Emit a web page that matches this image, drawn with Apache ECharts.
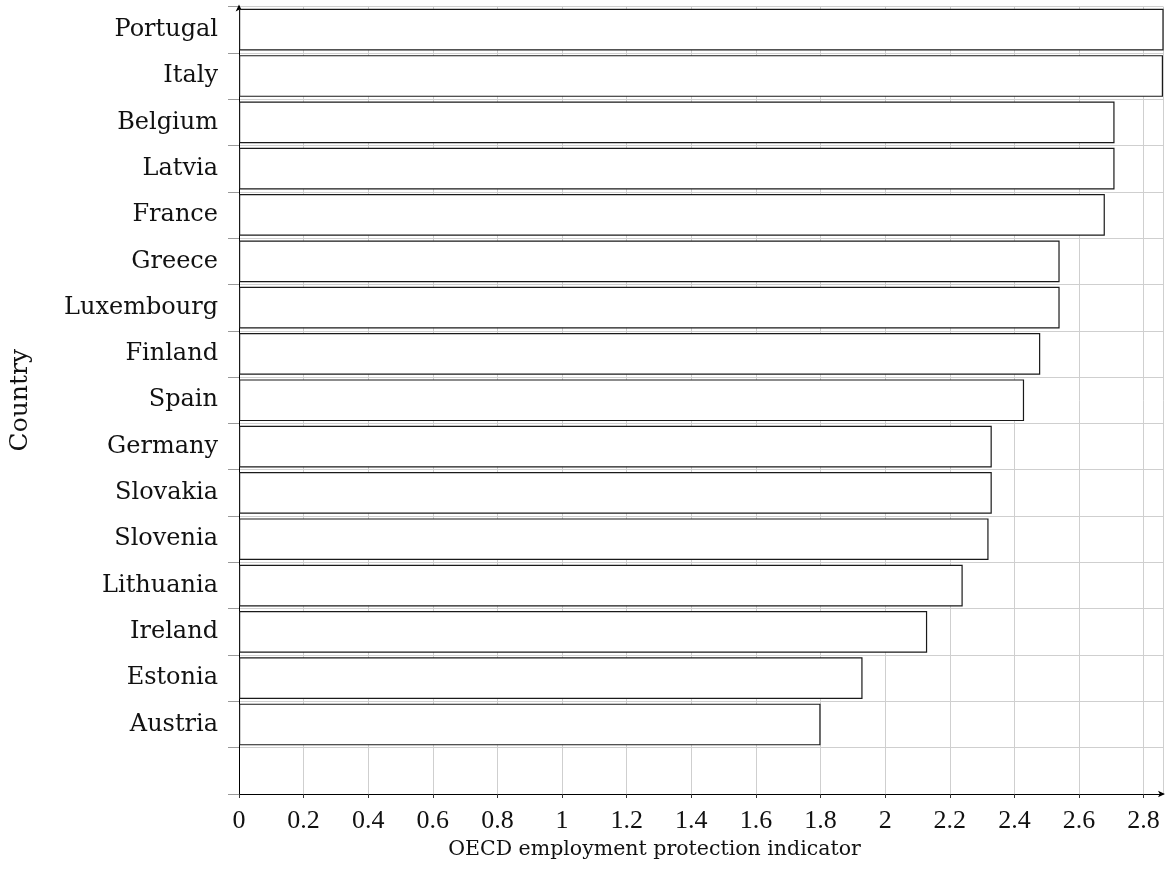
<!DOCTYPE html>
<html>
<head>
<meta charset="utf-8">
<script src="https://cdn.jsdelivr.net/npm/echarts@6/dist/echarts.min.js"></script>
<style>
html,body{margin:0;padding:0;background:#fff;}
#chart{width:1165px;height:877px;}
</style>
</head>
<body>
<div id="chart"></div>
<script>
// Categories listed top to bottom as in the picture; the last one is an empty slot
const countries = ['Portugal','Italy','Belgium','Latvia','France','Greece','Luxembourg','Finland','Spain','Germany','Slovakia','Slovenia','Lithuania','Ireland','Estonia','Austria',''];
const values = [3.18, 2.86, 2.71, 2.71, 2.68, 2.54, 2.54, 2.48, 2.43, 2.33, 2.33, 2.32, 2.24, 2.13, 1.93, 1.80, null];
const xTicks = [0,0.2,0.4,0.6,0.8,1,1.2,1.4,1.6,1.8,2,2.2,2.4,2.6,2.8];
const xMax = 2.86;
const xTitle = 'OECD employment protection indicator';
const yTitle = 'Country';

// bottom-to-top order for the category axis
const cats = countries.slice().reverse();
const vals = values.slice().reverse();

const chart = echarts.init(document.getElementById('chart'), null, {renderer:'canvas'});
const labelFont = 'DejaVu Serif';
const numFont = 'Liberation Serif';
chart.setOption({
  animation:false,
  backgroundColor:'#fff',
  grid:{left:237.5, top:6.5, width:925.5, height:787.5, containLabel:false},
  xAxis:{
    type:'value', min:0, max:xMax, interval:0.2,
    name:xTitle, nameLocation:'middle', nameGap:23,
    nameTextStyle:{fontFamily:labelFont, fontSize:20.5, color:'#111', padding:[0,93,0,0]},
    axisLine:{show:true, lineStyle:{color:'#000', width:1}, symbol:['none','arrow'], symbolSize:[5,7], symbolOffset:[0,2]},
    axisTick:{show:true, length:4, lineStyle:{color:'#333'}},
    axisLabel:{fontFamily:numFont, fontSize:26, color:'#111', margin:14, showMaxLabel:false,
      formatter:function(v){
        const hit = xTicks.find(t=>Math.abs(t-v)<1e-6);
        return hit===undefined ? '' : String(hit);
      }},
    splitLine:{show:true, lineStyle:{color:'#cfcfcf', width:1}}
  },
  yAxis:{
    type:'category', data:cats, boundaryGap:true,
    name:yTitle, nameLocation:'middle', nameGap:206, nameRotate:90,
    nameTextStyle:{fontFamily:labelFont, fontSize:25, color:'#111'},
    axisLine:{show:true, lineStyle:{color:'#000', width:1}, symbol:['none','arrow'], symbolSize:[5,7], symbolOffset:[0,2]},
    axisTick:{show:true, length:11, lineStyle:{color:'#999'}},
    axisLabel:{fontFamily:labelFont, fontSize:24, color:'#111', margin:21, interval:0},
    splitLine:{show:true, lineStyle:{color:'#cfcfcf', width:1}}
  },
  series:[{
    type:'bar', data:vals, barWidth:'90%', clip:true,
    itemStyle:{color:'#fff', borderColor:'#1a1a1a', borderWidth:1.2}
  }]
});
</script>
</body>
</html>
